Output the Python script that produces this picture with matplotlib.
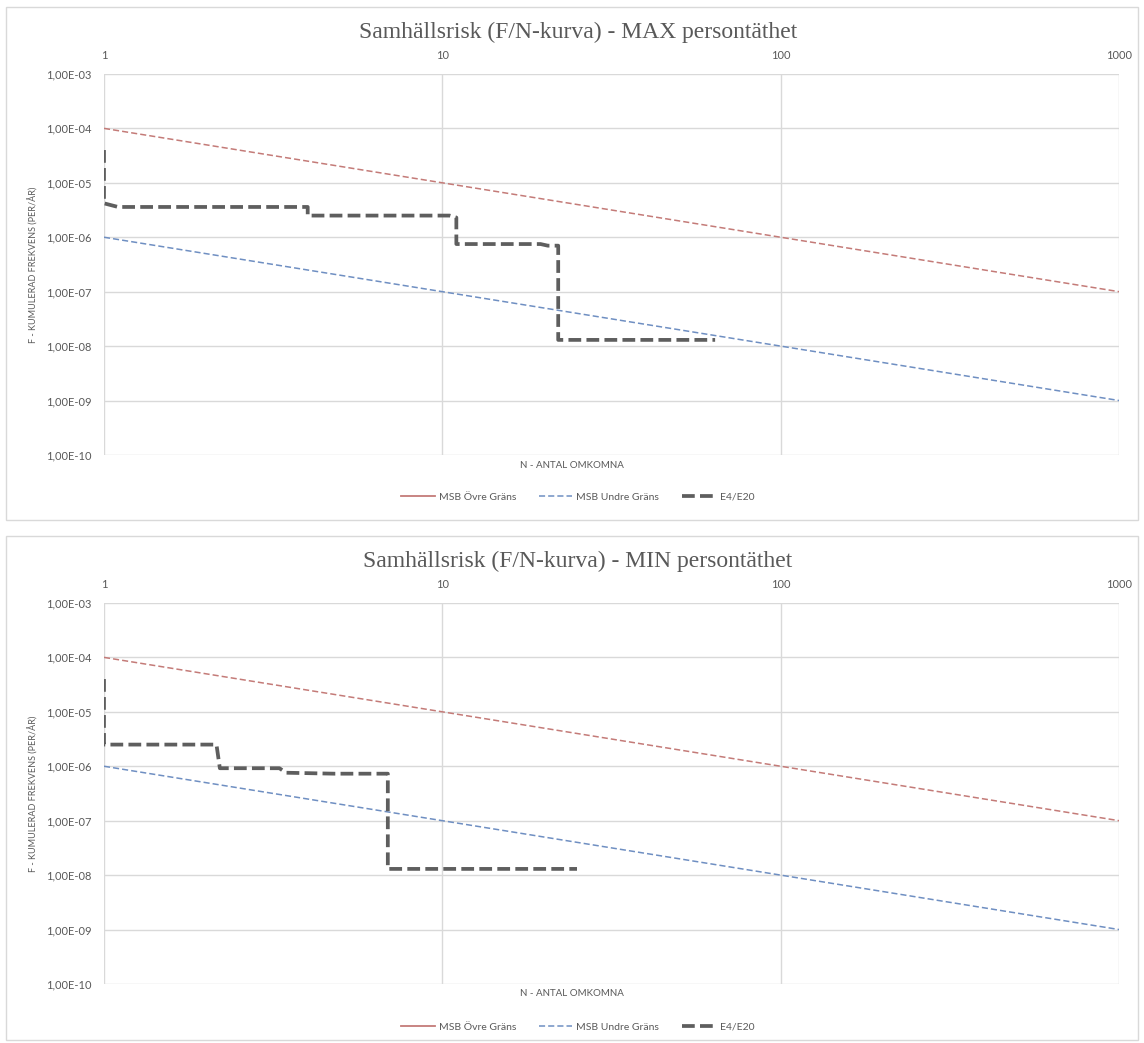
import numpy as np
import matplotlib.pyplot as plt
from matplotlib.lines import Line2D
from matplotlib.patches import Rectangle
from matplotlib.ticker import FixedLocator, FuncFormatter, NullLocator

# === Data ===
N_RANGE = [1, 1000]
MSB_UPPER_F1 = 1e-4   # F at N=1, slope -1 in log-log
MSB_LOWER_F1 = 1e-6

# E4/E20 step curve, MAX persontäthet
max_N = [1, 1, 1.1, 4.0, 4.0, 10.5, 11.0, 11.0, 19.5, 20.5, 22.0, 22.0, 64.0]
max_F = [4.0e-5, 4.2e-6, 3.6e-6, 3.6e-6, 2.5e-6, 2.5e-6, 2.3e-6, 7.5e-7,
         7.5e-7, 7.0e-7, 7.0e-7, 1.3e-8, 1.3e-8]

# E4/E20 step curve, MIN persontäthet
min_N = [1, 1, 2.15, 2.2, 3.3, 3.45, 4.8, 6.9, 6.9, 25.0]
min_F = [4.0e-5, 2.5e-6, 2.5e-6, 9.2e-7, 9.2e-7, 7.6e-7, 7.3e-7, 7.3e-7,
         1.3e-8, 1.3e-8]

x_ticks = [1, 10, 100, 1000]
y_ticks = [1e-10, 1e-9, 1e-8, 1e-7, 1e-6, 1e-5, 1e-4, 1e-3]

titles = ["Samhällsrisk (F/N-kurva) - MAX persontäthet",
          "Samhällsrisk (F/N-kurva) - MIN persontäthet"]
series_names = ["MSB Övre Gräns", "MSB Undre Gräns", "E4/E20"]

# === Style ===
RED = "#c47b78"
BLUE = "#6f8fc2"
GRAY = "#5e5e5e"
GRID = "#d9d9d9"
TXT = "#595959"
SANS = ["Lato", "DejaVu Sans"]
SERIF = ["Liberation Serif", "DejaVu Serif"]

fig = plt.figure(figsize=(11.44, 10.43), dpi=100)

# axes boxes in figure fraction (left, bottom, width, height)
panels = [
    dict(ax=[0.0909, 0.5638, 0.8873, 0.3653], frame=[0.0052, 0.5014, 0.9896, 0.4919],
         title_y=0.9693, xlabel_y=0.5535, legend_y=0.5235, N=max_N, F=max_F),
    dict(ax=[0.0909, 0.0566, 0.8873, 0.3653], frame=[0.0052, 0.0029, 0.9896, 0.4832],
         title_y=0.4621, xlabel_y=0.0470, legend_y=0.0153, N=min_N, F=min_F),
]

def sci_comma(v, pos):
    return f"{v:.2E}".replace(".", ",")

for title, p in zip(titles, panels):
    fig.add_artist(Rectangle(p["frame"][:2], p["frame"][2], p["frame"][3],
                             transform=fig.transFigure, fill=False,
                             edgecolor="#d9d9d9", lw=1.0))
    ax = fig.add_axes(p["ax"])
    ax.set_xscale("log")
    ax.set_yscale("log")
    ax.set_xlim(N_RANGE)
    ax.set_ylim(1e-10, 1e-3)

    n = np.array(N_RANGE, dtype=float)
    ax.plot(n, MSB_UPPER_F1 / n, color=RED, lw=1.1, ls=(0, (4, 2)), zorder=3)
    ax.plot(n, MSB_LOWER_F1 / n, color=BLUE, lw=1.1, ls=(0, (4, 2)), zorder=3)
    ax.plot(p["N"], p["F"], color=GRAY, lw=2.7, ls=(0, (3.4, 1.4)),
            solid_joinstyle="round", dash_capstyle="butt", zorder=4)

    ax.xaxis.set_major_locator(FixedLocator(x_ticks))
    ax.xaxis.set_minor_locator(NullLocator())
    ax.xaxis.set_major_formatter(FuncFormatter(lambda v, pos: f"{int(round(v))}"))
    ax.yaxis.set_major_locator(FixedLocator(y_ticks))
    ax.yaxis.set_minor_locator(NullLocator())
    ax.yaxis.set_major_formatter(FuncFormatter(sci_comma))
    ax.xaxis.tick_top()
    ax.tick_params(axis="both", length=0, labelsize=8, labelcolor=TXT)
    ax.tick_params(axis="x", pad=9)
    ax.tick_params(axis="y", pad=9)
    for lab in ax.get_xticklabels() + ax.get_yticklabels():
        lab.set_family(SANS)

    ax.grid(True, which="major", color=GRID, lw=1.0, zorder=0)
    for s in ax.spines.values():
        s.set_visible(False)
    ax.axvline(1, color="#bfbfbf", lw=1.2, zorder=1)
    ax.set_facecolor("none")

    fig.text(0.505, p["title_y"], title, ha="center", va="center",
             fontsize=17, color=TXT, family=SERIF)
    fig.text(0.5, p["xlabel_y"], "N - ANTAL OMKOMNA", ha="center", va="center",
             fontsize=7, color=TXT, family=SANS)
    ycen = p["ax"][1] + p["ax"][3] / 2
    fig.text(0.029, ycen, "F - KUMULERAD FREKVENS (PER/ÅR)", ha="center", va="center",
             rotation=90, fontsize=6.5, color=TXT, family=SANS)

    handles = [
        Line2D([], [], color=RED, lw=1.3),
        Line2D([], [], color=BLUE, lw=1.1, ls=(0, (4, 2))),
        Line2D([], [], color=GRAY, lw=2.7, ls=(0, (3.4, 1.4))),
    ]
    leg = fig.legend(handles, series_names, loc="center",
                     bbox_to_anchor=(0.505, p["legend_y"]), ncol=3, frameon=False,
                     handlelength=3.2, columnspacing=2.2, handletextpad=0.4,
                     prop={"family": SANS, "size": 7.5})
    for t in leg.get_texts():
        t.set_color(TXT)

fig.savefig("out.png", dpi=100, facecolor="white")
